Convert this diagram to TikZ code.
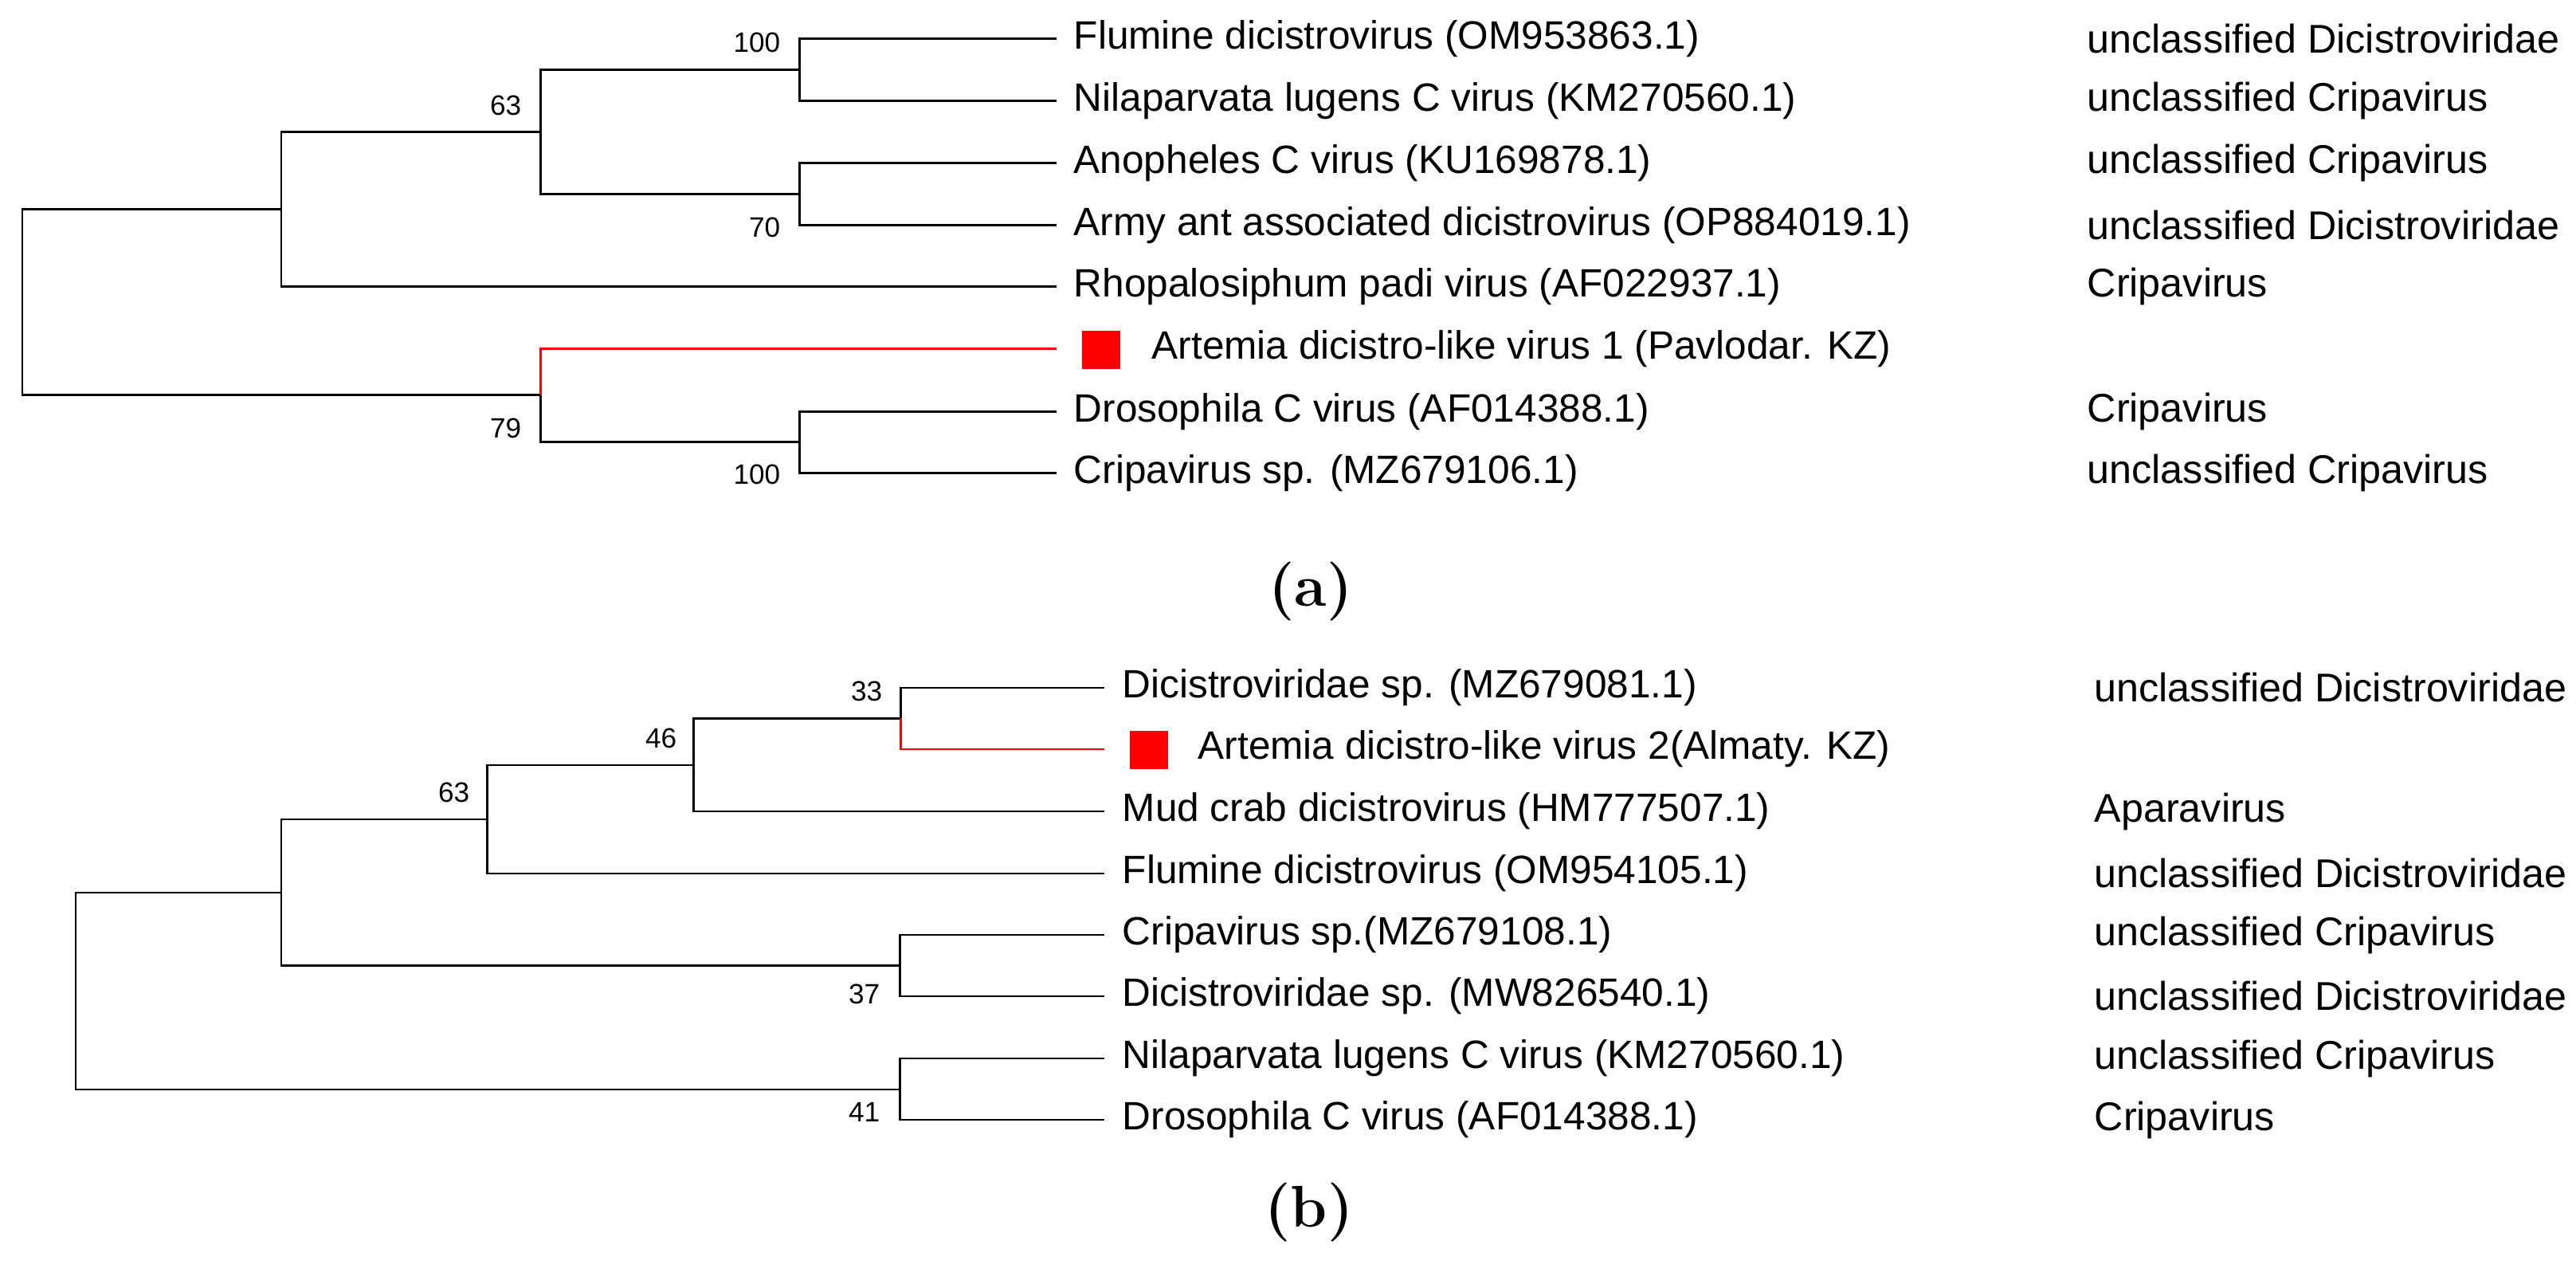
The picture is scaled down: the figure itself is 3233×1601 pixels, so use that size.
\documentclass[tikz,border=0pt]{standalone}
\usepackage{fontspec}
\setmainfont{Liberation Sans}
\newfontfamily\capfont{Latin Modern Roman}
\begin{document}
\begin{tikzpicture}[x=0.01cm,y=-0.01cm,
  br/.style={line width=0.85pt,black},
  rbr/.style={line width=0.85pt,red},
  leaf/.style={anchor=west,inner sep=0pt,font=\fontsize{14.1}{16}\selectfont},
  cat/.style={anchor=west,inner sep=0pt,font=\fontsize{14.3}{16}\selectfont},
  boot/.style={anchor=east,inner sep=0pt,font=\fontsize{10}{12}\selectfont},
  redsq/.style={fill=red,draw=none,minimum width=0.48cm,minimum height=0.48cm,inner sep=0pt},
  panel/.style={inner sep=0pt,font=\capfont\fontsize{21}{25}\selectfont}]
\useasboundingbox (0,0) rectangle (3233,1601);
% ---------------- (a) ----------------
\foreach \n/\y in {1/49,2/127,3/205,4/283,5/360,6/438,7/517,8/594}{\coordinate (a\n) at (1326,\y);}
\coordinate (aN100) at (1003,88);
\coordinate (aN70) at (1003,244);
\coordinate (aN63) at (678,166);
\coordinate (aNA) at (353,263);
\coordinate (aN100b) at (1003,555);
\coordinate (aN79) at (678,496);
\coordinate (aR) at (28,380);
\draw[br] (a1) -| (aN100) |- (a2);
\draw[br] (a3) -| (aN70) |- (a4);
\draw[br] (aN100) -| (aN63) |- (aN70);
\draw[br] (aN63) -| (aNA) |- (a5);
\draw[br] (a7) -| (aN100b) |- (a8);
\draw[rbr] (a6) -| (aN79);
\draw[br] (aN79) |- (aN100b);
\draw[br] (aNA) -| (28,264) -- (28,496) -- (aN79);
\node[leaf] (ta1) at (1347,49) {Flumine dicistrovirus (OM953863.1)};
\node[leaf] (ta2) at (1347,127) {Nilaparvata lugens C virus (KM270560.1)};
\node[leaf] (ta3) at (1347,205) {Anopheles C virus (KU169878.1)};
\node[leaf] (ta4) at (1347,283) {Army ant associated dicistrovirus (OP884019.1)};
\node[leaf] (ta5) at (1347,360) {Rhopalosiphum padi virus (AF022937.1)};
\node[redsq] (sqa) at (1382,439) {};
\node[leaf] (ta6) at (1445,438) {Artemia dicistro-like virus 1 (Pavlodar. KZ)};
\node[leaf] (ta7) at (1347,517) {Drosophila C virus (AF014388.1)};
\node[leaf] (ta8) at (1347,594) {Cripavirus sp. (MZ679106.1)};
\node[cat] (ca1) at (2619,49) {unclassified Dicistroviridae};
\node[cat] (ca2) at (2619,127) {unclassified Cripavirus};
\node[cat] (ca3) at (2619,205) {unclassified Cripavirus};
\node[cat] (ca4) at (2619,283) {unclassified Dicistroviridae};
\node[cat] (ca5) at (2619,360) {Cripavirus};
\node[cat] (ca7) at (2619,517) {Cripavirus};
\node[cat] (ca8) at (2619,594) {unclassified Cripavirus};
\node[boot] (ba1) at (980,53) {100};
\node[boot] (ba2) at (655,132) {63};
\node[boot] (ba3) at (980,285) {70};
\node[boot] (ba4) at (655,537) {79};
\node[boot] (ba5) at (980,595) {100};
\node[panel] (pa) at (1645,742) {\textbf{(a)}};
% ---------------- (b) ----------------
\foreach \n/\y in {1/863,2/940,3/1018,4/1096,5/1173,6/1250,7/1328,8/1405}{\coordinate (b\n) at (1386,\y);}
\coordinate (bN33) at (1130,901.5);
\coordinate (bN46) at (870,960);
\coordinate (bN63) at (611,1028);
\coordinate (bNA) at (353,1120);
\coordinate (bN37) at (1129,1211.5);
\coordinate (bN41) at (1129,1367);
\draw[br] (b1) -| (bN33);
\draw[rbr] (bN33) |- (b2);
\draw[br] (bN33) -| (bN46) |- (b3);
\draw[br] (bN46) -| (bN63) |- (b4);
\draw[br] (b5) -| (bN37) |- (b6);
\draw[br] (b7) -| (bN41) |- (b8);
\draw[br] (bN63) -| (bNA) |- (bN37);
\draw[br] (bNA) -| (95,1250) |- (bN41);
\node[leaf] (tb1) at (1408,863) {Dicistroviridae sp. (MZ679081.1)};
\node[redsq] (sqb) at (1442,941) {};
\node[leaf] (tb2) at (1503,940) {Artemia dicistro-like virus 2(Almaty. KZ)};
\node[leaf] (tb3) at (1408,1018) {Mud crab dicistrovirus (HM777507.1)};
\node[leaf] (tb4) at (1408,1096) {Flumine dicistrovirus (OM954105.1)};
\node[leaf] (tb5) at (1408,1173) {Cripavirus sp.(MZ679108.1)};
\node[leaf] (tb6) at (1408,1250) {Dicistroviridae sp. (MW826540.1)};
\node[leaf] (tb7) at (1408,1328) {Nilaparvata lugens C virus (KM270560.1)};
\node[leaf] (tb8) at (1408,1405) {Drosophila C virus (AF014388.1)};
\node[cat] (cb1) at (2628,863) {unclassified Dicistroviridae};
\node[cat] (cb3) at (2628,1018) {Aparavirus};
\node[cat] (cb4) at (2628,1096) {unclassified Dicistroviridae};
\node[cat] (cb5) at (2628,1173) {unclassified Cripavirus};
\node[cat] (cb6) at (2628,1250) {unclassified Dicistroviridae};
\node[cat] (cb7) at (2628,1328) {unclassified Cripavirus};
\node[cat] (cb8) at (2628,1405) {Cripavirus};
\node[boot] (bb1) at (1108,867) {33};
\node[boot] (bb2) at (850,926) {46};
\node[boot] (bb3) at (590,994) {63};
\node[boot] (bb4) at (1105,1247) {37};
\node[boot] (bb5) at (1105,1395) {41};
\node[panel] (pb) at (1643,1521) {\textbf{(b)}};
\end{tikzpicture}
\end{document}
